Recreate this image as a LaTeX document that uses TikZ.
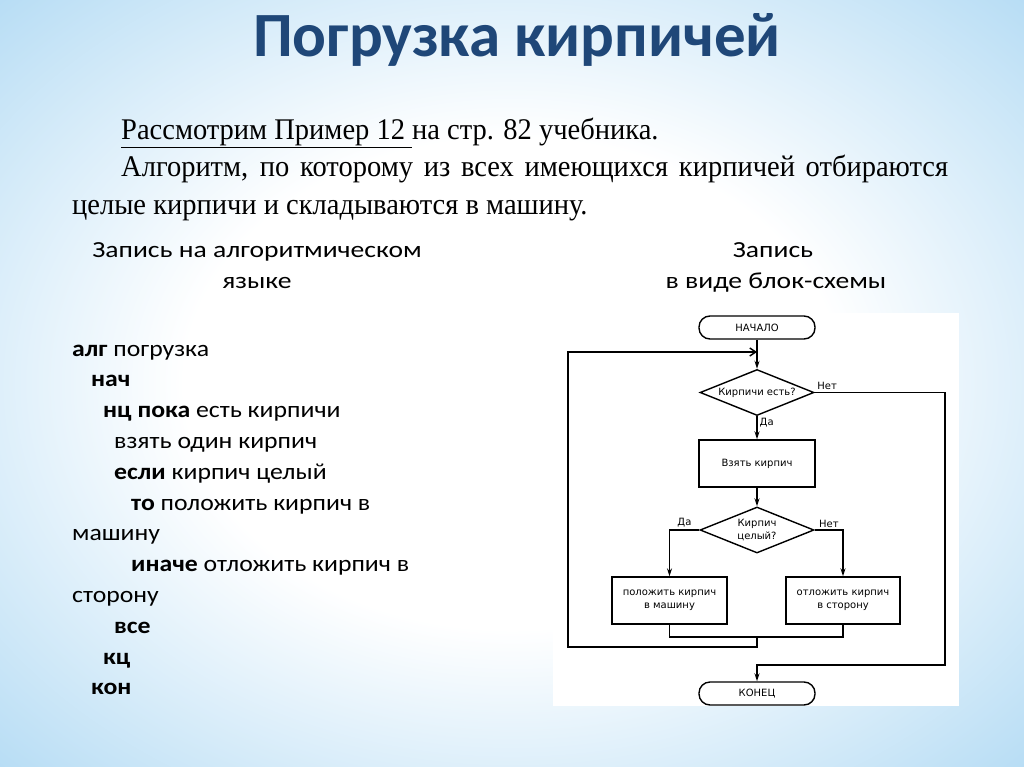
\documentclass[tikz,border=0pt]{standalone}
\usepackage{fontspec}
\setmainfont{Liberation Serif}
\newfontfamily\titlefont{Carlito}
\newfontfamily\parafont[FakeStretch=0.95]{Liberation Serif}
\newfontfamily\headfont[FakeStretch=1.2]{Carlito}
\newfontfamily\codefont[FakeStretch=1.12]{Carlito}
\newfontfamily\chartfont{DejaVu Sans}
\usepackage{tikz}
\usetikzlibrary{shapes,arrows.meta,positioning,calc}
\usepackage{xcolor}
\definecolor{titleblue}{RGB}{31,71,120}
\definecolor{bgblue}{RGB}{152,206,240}
\pgfdeclareradialshading{slidebg}{\pgfpoint{0bp}{0bp}}{color(0bp)=(white); color(16bp)=(white); color(44bp)=(bgblue); color(100bp)=(bgblue)}

\begin{document}
\begin{tikzpicture}[x=1pt, y=-1pt,
    terminal/.style={draw, line width=1.4pt, rounded corners=11pt, minimum width=116pt, minimum height=23pt, fill=white, font=\chartfont\fontsize{10}{12}\selectfont},
    decision/.style={draw, diamond, aspect=2.5, line width=1.4pt, minimum width=114pt, minimum height=46pt, inner sep=0pt, align=center, font=\chartfont\fontsize{10}{13}\selectfont},
    procbox/.style={draw, line width=1.4pt, minimum width=116pt, minimum height=47pt, align=center, font=\chartfont\fontsize{10}{13}\selectfont},
    flow/.style={line width=1.4pt, -{Stealth[length=8pt,width=5pt]}},
    loopflow/.style={line width=1.4pt, -{Straight Barb[length=6pt,width=8pt]}},
    lbl/.style={inner sep=2pt, font=\chartfont\fontsize{10}{12}\selectfont},
    codeline/.style={anchor=base west, inner sep=0pt, font=\codefont\fontsize{23}{27}\selectfont},
    headline/.style={anchor=base, inner sep=0pt, font=\headfont\fontsize{23}{27}\selectfont},
    paraline/.style={anchor=base west, inner sep=0pt, font=\parafont\fontsize{30}{34}\selectfont}]
    \useasboundingbox (0,0) rectangle (1024,767);
    \shade[shading=slidebg] (0,0) rectangle (1024,767);

    % title and text
    \node[anchor=base, inner sep=0pt, text=titleblue, font=\titlefont\bfseries\fontsize{63}{70}\selectfont] (title) at (517,57) {Погрузка кирпичей};
    \node[paraline] (intro1) at (121,139.5) {\underline{Рассмотрим Пример 12\ }на стр. 82 учебника.};
    \node[paraline] (intro2) at (121,177) {\makebox[827pt][s]{Алгоритм, по которому из всех имеющихся кирпичей отбираются}};
    \node[paraline] (intro3) at (72,214.5) {целые кирпичи и складываются в машину.};
    \node[headline] (lefthead1) at (257,257) {Запись на алгоритмическом};
    \node[headline] (lefthead2) at (257,288) {языке};
    \node[headline] (righthead1) at (773,257) {Запись};
    \node[headline] (righthead2) at (776,288) {в виде блок-схемы};

    % algorithmic language
    \node[codeline] (code1) at (72,356) {\textbf{алг} погрузка};
    \node[codeline] (code2) at (91,386.8) {\textbf{нач}};
    \node[codeline] (code3) at (103,417.6) {\textbf{нц пока} есть кирпичи};
    \node[codeline] (code4) at (114,448.4) {взять один кирпич};
    \node[codeline] (code5) at (114,479.2) {\textbf{если} кирпич целый};
    \node[codeline] (code6) at (131,510) {\textbf{то} положить кирпич в};
    \node[codeline] (code7) at (72,540.8) {машину};
    \node[codeline] (code8) at (131,571.6) {\textbf{иначе} отложить кирпич в};
    \node[codeline] (code9) at (72,602.4) {сторону};
    \node[codeline] (code10) at (114,633.2) {\textbf{все}};
    \node[codeline] (code11) at (103,664) {\textbf{кц}};
    \node[codeline] (code12) at (91,694.8) {\textbf{кон}};

    % flowchart
    \fill[white] (553,313) rectangle (959,706);
    \node[terminal] (start) at (757,327.5) {НАЧАЛО};
    \node[decision] (ask) at (757,392.5) {Кирпичи есть?};
    \node[procbox] (take) at (757,463.5) {Взять кирпич};
    \node[decision] (whole) at (757,530) {Кирпич\\целый?};
    \node[procbox, minimum width=115pt] (put) at (669.5,600.5) {положить кирпич\\в машину};
    \node[procbox, minimum width=114pt] (aside) at (843,600.5) {отложить кирпич\\в сторону};
    \node[terminal] (finish) at (757,693.5) {КОНЕЦ};
    \coordinate (merge) at (757,637);
    \coordinate (loopcorner) at (568,647);
    \coordinate (loopin) at (757,352);
    \coordinate (exitcorner) at (945,665);

    \draw[flow] (start) -- (ask);
    \draw[flow] (ask) -- node[lbl, right, pos=0.3] {Да} (take);
    \draw[flow] (take) -- (whole);
    \draw[flow] (whole.west) -| node[lbl, above, pos=0.25] {Да} (put);
    \draw[flow] (whole.east) -| node[lbl, above, pos=0.25] {Нет} (aside);
    \draw[line width=1.4pt] (put) |- (merge) -| (aside);
    \draw[loopflow] (merge) |- (loopcorner) |- (loopin);
    \draw[flow] (ask.east) -| node[lbl, above right, pos=0] {Нет} (exitcorner) -| (finish);
\end{tikzpicture}
\end{document}
